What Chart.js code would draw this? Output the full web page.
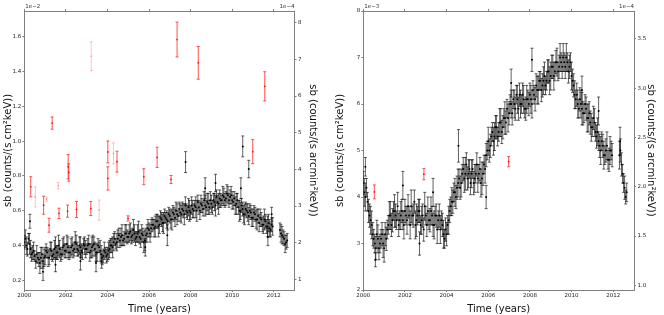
<!DOCTYPE html>
<html lang="en">
<head>
<meta charset="UTF-8">
<title>sb light curves</title>
<script src="https://cdn.jsdelivr.net/npm/chart.js@4.4.1/dist/chart.umd.min.js"></script>
<style>
    body { margin: 0; background: #fff; }
    .row { display: flex; width: 664px; height: 315px; }
    canvas { display: block; }
</style>
</head>
<body>
<div class="row">
    <canvas id="left" width="332" height="315"></canvas>
    <canvas id="right" width="332" height="315"></canvas>
</div>
<script>
// time grids (years)
const years = [
    2000.0, 2000.1, 2000.2, 2000.3, 2000.4, 2000.5, 2000.6, 2000.7, 2000.8, 2000.9,
    2001.0, 2001.1, 2001.2, 2001.3, 2001.4, 2001.5, 2001.6, 2001.7, 2001.8, 2001.9,
    2002.0, 2002.1, 2002.2, 2002.3, 2002.4, 2002.5, 2002.6, 2002.7, 2002.8, 2002.9,
    2003.0, 2003.1, 2003.2, 2003.3, 2003.4, 2003.5, 2003.6, 2003.7, 2003.8, 2003.9,
    2004.0, 2004.1, 2004.2, 2004.3, 2004.4, 2004.5, 2004.6, 2004.7, 2004.8, 2004.9,
    2005.0, 2005.1, 2005.2, 2005.3, 2005.4, 2005.5, 2005.6, 2005.7, 2005.8, 2005.9,
    2006.0, 2006.1, 2006.2, 2006.3, 2006.4, 2006.5, 2006.6, 2006.7, 2006.8, 2006.9,
    2007.0, 2007.1, 2007.2, 2007.3, 2007.4, 2007.5, 2007.6, 2007.7, 2007.8, 2007.9,
    2008.0, 2008.1, 2008.2, 2008.3, 2008.4, 2008.5, 2008.6, 2008.7, 2008.8, 2008.9,
    2009.0, 2009.1, 2009.2, 2009.3, 2009.4, 2009.5, 2009.6, 2009.7, 2009.8, 2009.9,
    2010.0, 2010.1, 2010.2, 2010.3, 2010.4, 2010.5, 2010.6, 2010.7, 2010.8, 2010.9,
    2011.0, 2011.1, 2011.2, 2011.3, 2011.4, 2011.5, 2011.6, 2011.7, 2011.8, 2011.9,
    2012.3, 2012.4, 2012.5, 2012.6
];
const yearsB = [
    2000.05, 2000.15, 2000.25, 2000.35, 2000.45, 2000.55, 2000.65, 2000.75, 2000.85, 2000.95,
    2001.05, 2001.15, 2001.25, 2001.35, 2001.45, 2001.55, 2001.65, 2001.75, 2001.85, 2001.95,
    2002.05, 2002.15, 2002.25, 2002.35, 2002.45, 2002.55, 2002.65, 2002.75, 2002.85, 2002.95,
    2003.05, 2003.15, 2003.25, 2003.35, 2003.45, 2003.55, 2003.65, 2003.75, 2003.85, 2003.95,
    2004.05, 2004.15, 2004.25, 2004.35, 2004.45, 2004.55, 2004.65, 2004.75, 2004.85, 2004.95,
    2005.05, 2005.15, 2005.25, 2005.35, 2005.45, 2005.55, 2005.65, 2005.75, 2005.85, 2005.95,
    2006.05, 2006.15, 2006.25, 2006.35, 2006.45, 2006.55, 2006.65, 2006.75, 2006.85, 2006.95,
    2007.05, 2007.15, 2007.25, 2007.35, 2007.45, 2007.55, 2007.65, 2007.75, 2007.85, 2007.95,
    2008.05, 2008.15, 2008.25, 2008.35, 2008.45, 2008.55, 2008.65, 2008.75, 2008.85, 2008.95,
    2009.05, 2009.15, 2009.25, 2009.35, 2009.45, 2009.55, 2009.65, 2009.75, 2009.85, 2009.95,
    2010.05, 2010.15, 2010.25, 2010.35, 2010.45, 2010.55, 2010.65, 2010.75, 2010.85, 2010.95,
    2011.05, 2011.15, 2011.25, 2011.35, 2011.45, 2011.55, 2011.65, 2011.75, 2011.85, 2011.95,
    2012.35, 2012.45, 2012.55, 2012.65
];

// left panel: sb in 1e-2 counts/(s cm^2 keV)
const sbLeft = [
    0.42, 0.40, 0.44, 0.38, 0.36, 0.34, 0.35, 0.32, 0.33, 0.31,
    0.34, 0.36, 0.33, 0.37, 0.35, 0.39, 0.36, 0.38, 0.35, 0.40,
    0.37, 0.39, 0.36, 0.40, 0.38, 0.41, 0.37, 0.39, 0.36, 0.40,
    0.38, 0.41, 0.37, 0.40, 0.38, 0.36, 0.39, 0.35, 0.34, 0.36,
    0.35, 0.38, 0.40, 0.42, 0.41, 0.44, 0.43, 0.46, 0.44, 0.47,
    0.45, 0.48, 0.46, 0.47, 0.45, 0.48, 0.44, 0.46, 0.43, 0.47,
    0.49, 0.50, 0.52, 0.51, 0.54, 0.52, 0.55, 0.53, 0.56, 0.54,
    0.57, 0.55, 0.58, 0.60, 0.57, 0.59, 0.61, 0.58, 0.60, 0.62,
    0.59, 0.61, 0.63, 0.60, 0.62, 0.64, 0.61, 0.63, 0.65, 0.62,
    0.64, 0.66, 0.63, 0.65, 0.67, 0.66, 0.68, 0.67, 0.69, 0.68,
    0.66, 0.67, 0.64, 0.62, 0.60, 0.61, 0.58, 0.60, 0.57, 0.59,
    0.56, 0.58, 0.55, 0.53, 0.55, 0.52, 0.54, 0.51, 0.50, 0.52,
    0.49, 0.46, 0.44, 0.42
];
const errLeft = [
    0.04, 0.05, 0.03, 0.05, 0.04, 0.03, 0.05, 0.04, 0.06, 0.04,
    0.05, 0.03, 0.04, 0.05, 0.03, 0.06, 0.04, 0.05, 0.03, 0.05,
    0.04, 0.06, 0.03, 0.05, 0.04, 0.05, 0.03, 0.06, 0.04, 0.05,
    0.03, 0.05, 0.04, 0.06, 0.04, 0.05, 0.03, 0.05, 0.04, 0.03,
    0.04, 0.05, 0.04, 0.05, 0.03, 0.05, 0.04, 0.06, 0.04, 0.05,
    0.03, 0.05, 0.04, 0.05, 0.03, 0.06, 0.05, 0.04, 0.06, 0.05,
    0.04, 0.05, 0.03, 0.06, 0.04, 0.05, 0.04, 0.06, 0.03, 0.05,
    0.04, 0.06, 0.04, 0.05, 0.03, 0.05, 0.04, 0.06, 0.04, 0.05,
    0.04, 0.05, 0.03, 0.06, 0.04, 0.05, 0.04, 0.06, 0.05, 0.04,
    0.05, 0.04, 0.06, 0.04, 0.05, 0.03, 0.05, 0.04, 0.05, 0.04,
    0.05, 0.04, 0.06, 0.04, 0.05, 0.04, 0.06, 0.04, 0.05, 0.04,
    0.05, 0.04, 0.06, 0.05, 0.04, 0.05, 0.04, 0.06, 0.05, 0.04,
    0.04, 0.05, 0.04, 0.04
];
const sbLeftB = [
    0.44, 0.38, 0.41, 0.35, 0.37, 0.31, 0.33, 0.30, 0.35, 0.33,
    0.37, 0.33, 0.38, 0.34, 0.38, 0.36, 0.40, 0.35, 0.39, 0.37,
    0.41, 0.36, 0.39, 0.37, 0.42, 0.38, 0.40, 0.37, 0.41, 0.38,
    0.40, 0.36, 0.39, 0.41, 0.36, 0.40, 0.37, 0.33, 0.37, 0.34,
    0.37, 0.40, 0.39, 0.44, 0.42, 0.46, 0.45, 0.43, 0.47, 0.45,
    0.47, 0.45, 0.49, 0.44, 0.47, 0.45, 0.47, 0.42, 0.46, 0.50,
    0.47, 0.52, 0.50, 0.54, 0.51, 0.56, 0.53, 0.57, 0.55, 0.58,
    0.55, 0.59, 0.56, 0.58, 0.61, 0.58, 0.60, 0.63, 0.59, 0.60,
    0.63, 0.60, 0.62, 0.65, 0.60, 0.63, 0.66, 0.62, 0.64, 0.66,
    0.62, 0.65, 0.68, 0.64, 0.66, 0.69, 0.66, 0.70, 0.66, 0.69,
    0.65, 0.63, 0.66, 0.60, 0.63, 0.58, 0.61, 0.59, 0.60, 0.56,
    0.59, 0.55, 0.57, 0.56, 0.52, 0.55, 0.51, 0.53, 0.49, 0.51,
    0.47, 0.45, 0.41, 0.43
];
const errLeftB = [
    0.05, 0.04, 0.06, 0.04, 0.05, 0.04, 0.03, 0.06, 0.04, 0.05,
    0.04, 0.05, 0.04, 0.03, 0.05, 0.04, 0.06, 0.04, 0.05, 0.04,
    0.05, 0.04, 0.05, 0.04, 0.06, 0.04, 0.05, 0.04, 0.03, 0.05,
    0.04, 0.05, 0.06, 0.04, 0.05, 0.04, 0.06, 0.04, 0.05, 0.04,
    0.05, 0.04, 0.06, 0.04, 0.05, 0.04, 0.05, 0.03, 0.05, 0.04,
    0.05, 0.04, 0.06, 0.04, 0.05, 0.04, 0.05, 0.06, 0.04, 0.05,
    0.05, 0.04, 0.05, 0.04, 0.06, 0.04, 0.05, 0.04, 0.05, 0.04,
    0.05, 0.04, 0.05, 0.06, 0.04, 0.05, 0.04, 0.05, 0.04, 0.06,
    0.05, 0.04, 0.06, 0.04, 0.05, 0.04, 0.05, 0.04, 0.06, 0.05,
    0.04, 0.05, 0.04, 0.06, 0.04, 0.05, 0.04, 0.05, 0.04, 0.05,
    0.04, 0.05, 0.04, 0.06, 0.04, 0.05, 0.04, 0.05, 0.04, 0.05,
    0.04, 0.05, 0.04, 0.05, 0.04, 0.06, 0.04, 0.05, 0.04, 0.05,
    0.05, 0.04, 0.05, 0.04
];
// isolated black points with long bars
const outYearsLeft = [2000.27, 2000.90, 2001.50, 2002.70, 2003.45, 2003.72, 2005.82, 2006.88,
    2007.76, 2008.70, 2009.20, 2010.42, 2010.51, 2010.80, 2011.72, 2011.90];
const outSbLeft = [0.54, 0.25, 0.29, 0.31, 0.30, 0.31, 0.39, 0.46,
    0.88, 0.73, 0.76, 0.73, 0.97, 0.84, 0.45, 0.58];
const outErrLeft = [0.04, 0.05, 0.04, 0.05, 0.05, 0.04, 0.05, 0.06,
    0.06, 0.06, 0.05, 0.06, 0.06, 0.05, 0.05, 0.04];

const redYearsLeft = [2000.31, 2000.93, 2001.19, 2001.34, 2001.67, 2002.08, 2002.11, 2002.14, 2002.51, 2003.20,
    2004.02, 2004.02, 2004.46, 2004.99, 2005.75, 2006.39, 2007.06, 2007.35, 2008.37, 2010.99, 2011.57];
const redSbLeft = [0.738, 0.632, 0.517, 1.104, 0.585, 0.598, 0.853, 0.82, 0.608, 0.613,
    0.938, 0.786, 0.882, 0.556, 0.796, 0.907, 0.78, 1.584, 1.45, 0.94, 1.315];
const redErrLeft = [0.058, 0.052, 0.04, 0.035, 0.03, 0.035, 0.07, 0.05, 0.046, 0.04,
    0.063, 0.067, 0.06, 0.015, 0.046, 0.058, 0.023, 0.10, 0.094, 0.069, 0.084];
const paleYearsLeft = [2000.53, 2001.07, 2001.63, 2003.22, 2003.60, 2004.29];
const paleSbLeft = [0.68, 0.667, 0.744, 1.488, 0.604, 0.93];
const paleErrLeft = [0.058, 0.012, 0.018, 0.083, 0.058, 0.06];

// right panel: sb in 1e-3 counts/(s cm^2 keV)
const sbRight = [
    4.3, 4.0, 3.9, 3.6, 3.4, 3.1, 2.9, 3.1, 3.0, 3.2,
    2.9, 3.1, 3.4, 3.6, 3.5, 3.7, 3.5, 3.4, 3.6, 3.5,
    3.7, 3.5, 3.6, 3.8, 3.6, 3.4, 3.6, 3.7, 3.5, 3.3,
    3.6, 3.7, 3.5, 3.6, 3.4, 3.6, 3.5, 3.3, 3.4, 3.1,
    3.2, 3.5, 3.8, 3.9, 4.1, 4.2, 4.4, 4.3, 4.6, 4.5,
    4.4, 4.6, 4.5, 4.3, 4.5, 4.4, 4.6, 4.4, 4.7, 4.9,
    5.2, 5.1, 5.4, 5.3, 5.5, 5.4, 5.6, 5.5, 5.7, 5.9,
    5.8, 6.0, 6.1, 5.9, 6.1, 6.2, 6.0, 6.1, 5.9, 6.1,
    6.2, 6.0, 6.2, 6.4, 6.3, 6.5, 6.4, 6.6, 6.5, 6.7,
    6.6, 6.8, 6.7, 6.9, 6.8, 6.9, 7.0, 6.8, 6.9, 6.8,
    6.6, 6.4, 6.1, 6.0, 6.1, 5.9, 5.8, 5.9, 5.7, 5.6,
    5.5, 5.6, 5.3, 5.2, 5.0, 5.1, 4.9, 5.1, 4.8, 5.0,
    4.9, 4.7, 4.3, 4.0
];
const errRight = [
    0.25, 0.30, 0.20, 0.25, 0.30, 0.20, 0.25, 0.30, 0.20, 0.25,
    0.30, 0.25, 0.20, 0.30, 0.25, 0.35, 0.20, 0.25, 0.30, 0.20,
    0.25, 0.30, 0.20, 0.35, 0.25, 0.30, 0.20, 0.25, 0.30, 0.25,
    0.20, 0.30, 0.25, 0.20, 0.30, 0.25, 0.20, 0.30, 0.25, 0.20,
    0.25, 0.30, 0.20, 0.25, 0.30, 0.25, 0.20, 0.30, 0.25, 0.35,
    0.25, 0.20, 0.30, 0.25, 0.20, 0.30, 0.25, 0.35, 0.20, 0.25,
    0.30, 0.25, 0.20, 0.30, 0.25, 0.20, 0.30, 0.25, 0.35, 0.20,
    0.25, 0.30, 0.20, 0.25, 0.30, 0.25, 0.20, 0.30, 0.25, 0.20,
    0.25, 0.30, 0.20, 0.25, 0.30, 0.20, 0.25, 0.30, 0.20, 0.25,
    0.30, 0.25, 0.20, 0.30, 0.25, 0.20, 0.30, 0.25, 0.20, 0.25,
    0.30, 0.25, 0.20, 0.30, 0.25, 0.35, 0.20, 0.25, 0.30, 0.25,
    0.20, 0.30, 0.25, 0.20, 0.30, 0.25, 0.20, 0.30, 0.25, 0.20,
    0.30, 0.25, 0.20, 0.15
];
const sbRightB = [
    4.1, 4.2, 3.7, 3.5, 3.2, 3.0, 3.2, 2.9, 3.1, 3.0,
    3.2, 3.3, 3.6, 3.4, 3.7, 3.6, 3.8, 3.5, 3.7, 3.4,
    3.6, 3.8, 3.4, 3.6, 3.9, 3.5, 3.7, 3.4, 3.6, 3.8,
    3.4, 3.5, 3.7, 3.4, 3.6, 3.3, 3.6, 3.5, 3.2, 3.3,
    3.4, 3.7, 3.9, 4.1, 4.0, 4.3, 4.2, 4.5, 4.4, 4.7,
    4.5, 4.3, 4.6, 4.4, 4.7, 4.5, 4.3, 4.5, 4.6, 5.0,
    5.0, 5.3, 5.2, 5.5, 5.3, 5.6, 5.4, 5.7, 5.6, 5.7,
    6.0, 5.8, 6.0, 6.2, 5.9, 6.0, 6.2, 5.9, 6.1, 6.0,
    6.1, 6.3, 6.1, 6.3, 6.5, 6.3, 6.5, 6.4, 6.7, 6.5,
    6.8, 6.6, 6.9, 6.7, 7.0, 6.8, 6.9, 7.0, 6.7, 6.9,
    6.5, 6.2, 6.2, 5.9, 6.0, 5.8, 6.0, 5.7, 5.8, 5.5,
    5.7, 5.4, 5.4, 5.1, 5.2, 4.9, 5.0, 4.8, 5.0, 4.9,
    5.0, 4.5, 4.2, 4.1
];
const errRightB = [
    0.30, 0.20, 0.25, 0.30, 0.25, 0.20, 0.30, 0.25, 0.20, 0.30,
    0.25, 0.20, 0.30, 0.25, 0.20, 0.25, 0.30, 0.20, 0.25, 0.30,
    0.20, 0.25, 0.30, 0.20, 0.25, 0.35, 0.25, 0.20, 0.25, 0.30,
    0.25, 0.20, 0.30, 0.25, 0.20, 0.30, 0.25, 0.20, 0.30, 0.25,
    0.20, 0.25, 0.30, 0.20, 0.25, 0.30, 0.25, 0.20, 0.30, 0.25,
    0.30, 0.25, 0.20, 0.30, 0.25, 0.20, 0.30, 0.25, 0.30, 0.20,
    0.25, 0.20, 0.30, 0.25, 0.20, 0.30, 0.25, 0.20, 0.25, 0.30,
    0.20, 0.25, 0.30, 0.20, 0.25, 0.30, 0.25, 0.20, 0.30, 0.25,
    0.30, 0.20, 0.25, 0.30, 0.20, 0.25, 0.30, 0.20, 0.25, 0.30,
    0.25, 0.30, 0.25, 0.20, 0.30, 0.25, 0.20, 0.30, 0.25, 0.20,
    0.25, 0.30, 0.25, 0.20, 0.30, 0.25, 0.20, 0.30, 0.25, 0.30,
    0.25, 0.20, 0.30, 0.25, 0.20, 0.30, 0.25, 0.20, 0.30, 0.25,
    0.25, 0.20, 0.25, 0.20
];
const outYearsRight = [2000.10, 2000.58, 2001.90, 2002.70, 2003.35, 2004.57, 2005.90,
    2007.10, 2008.10, 2010.50, 2011.30, 2012.33];
const outSbRight = [4.65, 2.65, 4.25, 3.00, 4.10, 5.10, 4.00,
    6.45, 6.95, 6.30, 5.85, 5.20];
const outErrRight = [0.20, 0.15, 0.30, 0.25, 0.30, 0.35, 0.25,
    0.30, 0.25, 0.30, 0.30, 0.30];

const redYearsRight = [2000.53, 2002.91, 2006.98];
const redSbRight = [4.11, 4.49, 4.76];
const redErrRight = [0.15, 0.12, 0.11];

// tick labels
const yearTicks = [2000, 2002, 2004, 2006, 2008, 2010, 2012];
const leftTicksL = [0.2, 0.4, 0.6, 0.8, 1.0, 1.2, 1.4, 1.6];
const rightTicksL = [1, 2, 3, 4, 5, 6, 7, 8];
const leftTicksR = [2, 3, 4, 5, 6, 7, 8];
const rightTicksR = [1.0, 1.5, 2.0, 2.5, 3.0, 3.5];

const FONT = 'DejaVu Sans';
const AXIS = '#808080';

const pts = (xs, ys) => xs.map((x, i) => ({ x: x, y: ys[i] }));

// vertical error bars drawn through the chart's own y scale
const errorBars = {
    id: 'errorBars',
    beforeDatasetDraw(chart, args) {
        const ds = chart.data.datasets[args.index];
        if (!ds.err) return;
        const meta = args.meta;
        const ys = chart.scales[meta.yAxisID];
        const ctx = chart.ctx;
        const a = chart.chartArea;
        ctx.save();
        ctx.beginPath();
        ctx.rect(a.left, a.top, a.right - a.left, a.bottom - a.top);
        ctx.clip();
        ctx.strokeStyle = ds.barColor;
        ctx.lineWidth = 1;
        ds.data.forEach((p, j) => {
            const x = meta.data[j].x;
            const y1 = ys.getPixelForValue(p.y + ds.err[j]);
            const y2 = ys.getPixelForValue(p.y - ds.err[j]);
            ctx.beginPath();
            ctx.moveTo(x, y1); ctx.lineTo(x, y2);
            ctx.moveTo(x - 1.5, y1); ctx.lineTo(x + 1.5, y1);
            ctx.moveTo(x - 1.5, y2); ctx.lineTo(x + 1.5, y2);
            ctx.stroke();
        });
        ctx.restore();
    }
};

// offset text like "1e-2" above the frame
const offsetText = {
    id: 'offsetText',
    afterDraw(chart, args, opts) {
        const ctx = chart.ctx;
        const a = chart.chartArea;
        ctx.save();
        ctx.font = '5.5px ' + FONT;
        ctx.fillStyle = '#333';
        ctx.textBaseline = 'bottom';
        ctx.textAlign = 'left';
        ctx.fillText(opts.left, a.left + 1, a.top - 1.5);
        ctx.textAlign = 'right';
        ctx.fillText(opts.right, a.right, a.top - 1.5);
        ctx.restore();
    }
};

function setTicks(list) {
    return s => { s.ticks = list.map(v => ({ value: v })); };
}

function cloud(xs, ys, err) {
    return {
        data: pts(xs, ys), err: err, yAxisID: 'y',
        barColor: 'rgba(0,0,0,0.62)', backgroundColor: '#000', borderColor: '#000',
        pointRadius: 1, borderWidth: 0
    };
}

function makePanel(id, p) {
    const tickFont = { family: FONT, size: 5.5 };
    const titleFont = { family: FONT, size: 10 };
    new Chart(document.getElementById(id), {
        type: 'scatter',
        data: {
            datasets: [
                cloud(years, p.sb, p.err),
                cloud(yearsB, p.sbB, p.errB),
                cloud(p.outYears, p.outSb, p.outErr),
                {
                    data: pts(p.paleYears, p.paleSb), err: p.paleErr, yAxisID: 'y',
                    barColor: 'rgba(255,60,60,0.3)', backgroundColor: 'rgba(255,60,60,0.5)',
                    pointRadius: 0.8, borderWidth: 0
                },
                {
                    data: pts(p.redYears, p.redSb), err: p.redErr, yAxisID: 'y',
                    barColor: 'rgba(255,40,40,0.8)', backgroundColor: 'rgba(255,0,0,0.9)',
                    pointRadius: 0.9, borderWidth: 0
                }
            ]
        },
        options: {
            responsive: false,
            animation: false,
            layout: { padding: 0 },
            plugins: {
                legend: { display: false },
                tooltip: { enabled: false },
                offsetText: { left: p.expLeft, right: p.expRight }
            },
            scales: {
                x: {
                    type: 'linear', position: 'bottom', min: 2000, max: 2013,
                    afterBuildTicks: setTicks(yearTicks),
                    afterFit: s => { s.height = 25; },
                    ticks: { font: tickFont, color: '#222', padding: 0, maxRotation: 0, autoSkip: false, callback: v => String(v) },
                    grid: { drawOnChartArea: false, tickLength: 2, color: AXIS },
                    border: { color: AXIS },
                    title: { display: true, text: 'Time (years)', font: titleFont, color: '#111', padding: { top: 4.5, bottom: 0 } }
                },
                xTop: {
                    type: 'linear', position: 'top', min: 2000, max: 2013,
                    afterBuildTicks: setTicks(yearTicks),
                    afterFit: s => { s.height = 11; },
                    ticks: { display: false },
                    grid: { drawOnChartArea: false, tickLength: 2, color: AXIS },
                    border: { color: AXIS }
                },
                y: {
                    type: 'linear', position: 'left', min: p.yMin, max: p.yMax,
                    afterBuildTicks: setTicks(p.leftTicks),
                    afterFit: s => { s.width = p.leftW; },
                    ticks: { font: tickFont, color: '#222', padding: 1, callback: p.leftFmt },
                    grid: { drawOnChartArea: false, tickLength: 2, color: AXIS },
                    border: { color: AXIS },
                    title: { display: true, text: 'sb (counts/(s cm²keV))', font: titleFont, color: '#111', padding: { top: 2, bottom: 0 } }
                },
                y2: {
                    type: 'linear', position: 'right', min: p.y2Min, max: p.y2Max,
                    afterBuildTicks: setTicks(p.rightTicks),
                    afterFit: s => { s.width = p.rightW; },
                    ticks: { font: tickFont, color: '#222', padding: 1.5, callback: p.rightFmt },
                    grid: { drawOnChartArea: false, tickLength: 2, color: AXIS },
                    border: { color: AXIS },
                    title: { display: true, text: 'sb (counts/(s arcmin²keV))', font: titleFont, color: '#111', padding: { top: p.rightTitlePad, bottom: 0 } }
                }
            }
        },
        plugins: [errorBars, offsetText]
    });
}

makePanel('left', {
    sb: sbLeft, err: errLeft, sbB: sbLeftB, errB: errLeftB,
    outYears: outYearsLeft, outSb: outSbLeft, outErr: outErrLeft,
    paleYears: paleYearsLeft, paleSb: paleSbLeft, paleErr: paleErrLeft,
    redYears: redYearsLeft, redSb: redSbLeft, redErr: redErrLeft,
    yMin: 0.145, yMax: 1.748, y2Min: 0.71, y2Max: 8.32,
    leftTicks: leftTicksL, rightTicks: rightTicksL,
    leftFmt: v => v.toFixed(1), rightFmt: v => String(v),
    leftW: 24.3, rightW: 37.5, rightTitlePad: 13,
    expLeft: '1e\u22122', expRight: '1e\u22124'
});

makePanel('right', {
    sb: sbRight, err: errRight, sbB: sbRightB, errB: errRightB,
    outYears: outYearsRight, outSb: outSbRight, outErr: outErrRight,
    paleYears: [], paleSb: [], paleErr: [],
    redYears: redYearsRight, redSb: redSbRight, redErr: redErrRight,
    yMin: 2, yMax: 8, y2Min: 0.952, y2Max: 3.784,
    leftTicks: leftTicksR, rightTicks: rightTicksR,
    leftFmt: v => String(v), rightFmt: v => v.toFixed(1),
    leftW: 31.3, rightW: 30, rightTitlePad: 7,
    expLeft: '1e\u22123', expRight: '1e\u22124'
});
</script>
</body>
</html>
